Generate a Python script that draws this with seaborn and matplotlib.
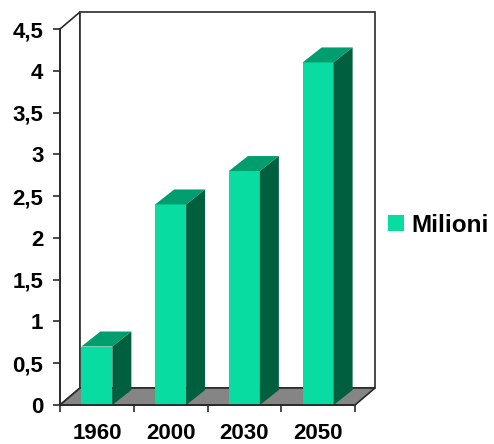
import numpy as np
import pandas as pd
import matplotlib
matplotlib.use("Agg")
import matplotlib.pyplot as plt
from matplotlib.patches import Polygon, Patch
import seaborn as sns

# Data
anni = ["1960", "2000", "2030", "2050"]
milioni = [0.7, 2.4, 2.8, 4.1]
y_ticks = [0, 0.5, 1, 1.5, 2, 2.5, 3, 3.5, 4, 4.5]
y_labels = ["0", "0,5", "1", "1,5", "2", "2,5", "3", "3,5", "4", "4,5"]

df = pd.DataFrame({"Anno": anni, "Milioni": milioni})

sns.set_style("ticks")
plt.rcParams["font.family"] = ["Liberation Sans", "DejaVu Sans"]
plt.rcParams["font.weight"] = "bold"
plt.rcParams["text.color"] = "black"
plt.rcParams["xtick.labelcolor"] = "black"
plt.rcParams["ytick.labelcolor"] = "black"

FRONT = "#08dca0"
TOP = "#009e6e"
SIDE = "#005f3e"
FLOOR = "#858585"
EDGE = "#2a2a2a"

W, H = 494, 444
fig = plt.figure(figsize=(W / 100, H / 100), dpi=100)
ax_l, ax_b, ax_w, ax_h = 60, 39, 295, 376
ax = fig.add_axes([ax_l / W, ax_b / H, ax_w / W, ax_h / H])

sns.barplot(data=df, x="Anno", y="Milioni", color=FRONT, saturation=1,
            width=0.42, edgecolor="none", ax=ax, zorder=3)

ax.set_xlim(-0.5, 3.5)
ax.set_ylim(0, 4.5)

# pixel -> data conversions
ux = 4.0 / ax_w
uy = 4.5 / ax_h

# depth of the walls and of the bars (in pixels)
wdx, wdy = 20 * ux, 17 * uy
bdx, bdy = 19 * ux, 15 * uy

x0, x1 = -0.5, 3.5
y1 = 4.5

# left wall
ax.add_patch(Polygon([(x0, 0), (x0, y1), (x0 + wdx, y1 + wdy), (x0 + wdx, wdy)],
                     closed=True, facecolor="white", edgecolor=EDGE, lw=1.2,
                     clip_on=False, zorder=0.5))
# back wall
ax.add_patch(Polygon([(x0 + wdx, wdy), (x1 + wdx, wdy), (x1 + wdx, y1 + wdy), (x0 + wdx, y1 + wdy)],
                     closed=True, facecolor="white", edgecolor=EDGE, lw=1.2,
                     clip_on=False, zorder=0.5))
# floor
ax.add_patch(Polygon([(x0, 0), (x1, 0), (x1 + wdx, wdy), (x0 + wdx, wdy)],
                     closed=True, facecolor=FLOOR, edgecolor=EDGE, lw=1.2,
                     clip_on=False, zorder=1))

# top and side faces of the columns
for p in list(ax.patches):
    if p.get_facecolor()[:3] != matplotlib.colors.to_rgb(FRONT):
        continue
    bx, bw, bh = p.get_x(), p.get_width(), p.get_height()
    ax.add_patch(Polygon([(bx, bh), (bx + bw, bh), (bx + bw + bdx, bh + bdy), (bx + bdx, bh + bdy)],
                         closed=True, facecolor=TOP, edgecolor="none", zorder=3,
                         clip_on=False))
    ax.add_patch(Polygon([(bx + bw, 0), (bx + bw + bdx, bdy), (bx + bw + bdx, bh + bdy), (bx + bw, bh)],
                         closed=True, facecolor=SIDE, edgecolor="none", zorder=3,
                         clip_on=False))

# axes styling
for s in ["top", "right"]:
    ax.spines[s].set_visible(False)
for s in ["left", "bottom"]:
    ax.spines[s].set_color(EDGE)
    ax.spines[s].set_linewidth(1.3)
    ax.spines[s].set_zorder(4)

ax.set_xlabel("")
ax.set_ylabel("")
ax.set_yticks(y_ticks)
ax.set_yticklabels(y_labels, fontsize=16, fontweight="bold", color="black")
ax.tick_params(axis="y", length=5, width=1.2, color=EDGE, pad=7)

ax.set_xticks(range(len(anni)))
ax.set_xticklabels(anni, fontsize=16, fontweight="bold", color="black")
ax.set_xticks(np.arange(-0.5, 3.51, 1.0), minor=True)
ax.tick_params(axis="x", which="major", length=0, pad=13)
ax.tick_params(axis="x", which="minor", length=5, width=1.2, color=EDGE)

# legend
handle = Patch(facecolor=FRONT, edgecolor="none", label="Milioni")
fig.legend(handles=[handle], loc="center left", bbox_to_anchor=(388 / W, 1 - 225 / H),
           frameon=False, prop={"size": 17.5, "weight": "bold"}, labelcolor="black",
           handlelength=0.65, handleheight=0.65, handletextpad=0.3, borderpad=0,
           borderaxespad=0)

fig.savefig("out.png", dpi=100)
